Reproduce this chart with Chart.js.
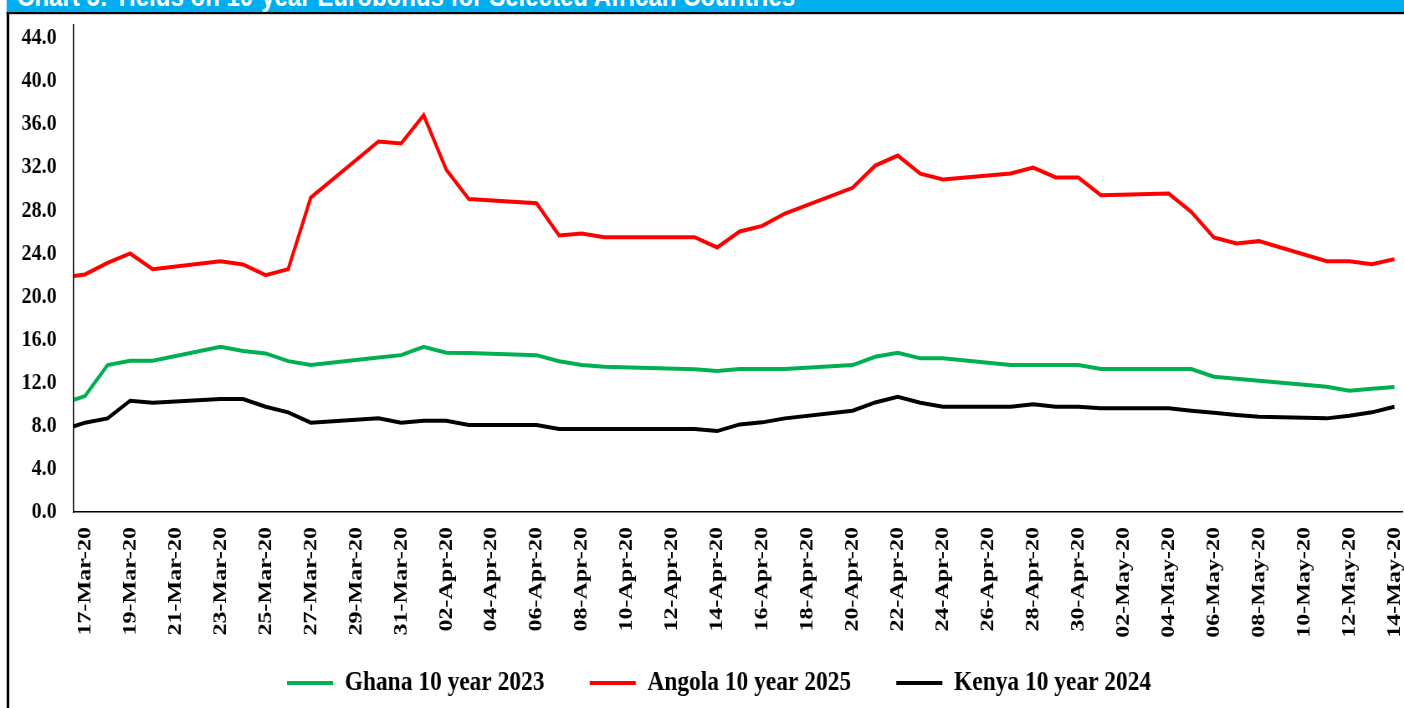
<!DOCTYPE html>
<html>
<head>
<meta charset="utf-8">
<script src="https://cdn.jsdelivr.net/npm/chart.js@4.4.1/dist/chart.umd.min.js"></script>
<style>
html,body{margin:0;padding:0;background:#fff;overflow:hidden;width:1404px;height:708px;}
#wrap{position:absolute;left:0;top:0;width:1678px;height:800px;transform:scaleX(0.83671);transform-origin:0 0;}
#bar{position:absolute;left:8.4px;top:0;width:1680px;height:12px;background:#00AEEF;overflow:hidden;}
#title{position:absolute;left:12px;top:-17.8px;font-family:"Liberation Sans";font-weight:bold;font-size:28.7px;line-height:28.7px;color:#fff;white-space:nowrap;}
#topline{position:absolute;left:8.4px;top:12px;width:1680px;height:2px;background:#000;}
#grayline{position:absolute;left:10.8px;top:14px;width:1680px;height:1px;background:#d4d4d4;}
#leftline{position:absolute;left:8.4px;top:12px;width:2.4px;height:790px;background:#000;}
#cw{position:absolute;left:0;top:0;width:1678px;height:800px;}
</style>
</head>
<body>
<div id="wrap">
  <div id="bar"><div id="title">Chart 5: Yields on 10-year Eurobonds for Selected African Countries</div></div>
  <div id="topline"></div>
  <div id="grayline"></div>
  <div id="leftline"></div>
  <div id="cw"><canvas id="c"></canvas></div>
</div>
<script>
// ---- data ----
const tradeDates = ['16-Mar-20','17-Mar-20','18-Mar-20','19-Mar-20','20-Mar-20','23-Mar-20','24-Mar-20','25-Mar-20','26-Mar-20','27-Mar-20','30-Mar-20','31-Mar-20','01-Apr-20','02-Apr-20','03-Apr-20','06-Apr-20','07-Apr-20','08-Apr-20','09-Apr-20','13-Apr-20','14-Apr-20','15-Apr-20','16-Apr-20','17-Apr-20','20-Apr-20','21-Apr-20','22-Apr-20','23-Apr-20','24-Apr-20','27-Apr-20','28-Apr-20','29-Apr-20','30-Apr-20','01-May-20','04-May-20','05-May-20','06-May-20','07-May-20','08-May-20','11-May-20','12-May-20','13-May-20','14-May-20'];
const ghana  = [10.07,10.76,13.64,14.04,14.04,15.34,14.94,14.72,14.0,13.64,14.35,14.56,15.34,14.78,14.75,14.56,14.0,13.64,13.48,13.24,13.08,13.27,13.27,13.27,13.64,14.41,14.78,14.26,14.26,13.64,13.64,13.64,13.64,13.27,13.27,13.27,12.55,12.37,12.18,11.63,11.25,11.44,11.6];
const angola = [21.77,22.05,23.13,24.0,22.54,23.28,22.98,21.98,22.54,29.19,34.39,34.2,36.83,31.78,29.04,28.65,25.67,25.85,25.5,25.5,24.55,26.04,26.56,27.7,30.09,32.15,33.08,31.4,30.86,31.42,31.97,31.05,31.05,29.4,29.56,27.86,25.48,24.92,25.14,23.28,23.28,23.0,23.47];
const kenya  = [7.6,8.29,8.69,10.33,10.14,10.48,10.48,9.77,9.25,8.29,8.69,8.29,8.47,8.47,8.07,8.07,7.7,7.7,7.7,7.7,7.51,8.13,8.32,8.69,9.4,10.17,10.7,10.14,9.77,9.77,9.99,9.77,9.77,9.62,9.62,9.4,9.21,9.0,8.84,8.69,8.93,9.25,9.77];
const xTickLabels = ['17-Mar-20','19-Mar-20','21-Mar-20','23-Mar-20','25-Mar-20','27-Mar-20','29-Mar-20','31-Mar-20','02-Apr-20','04-Apr-20','06-Apr-20','08-Apr-20','10-Apr-20','12-Apr-20','14-Apr-20','16-Apr-20','18-Apr-20','20-Apr-20','22-Apr-20','24-Apr-20','26-Apr-20','28-Apr-20','30-Apr-20','02-May-20','04-May-20','06-May-20','08-May-20','10-May-20','12-May-20','14-May-20'];
const yTickValues = [0,4,8,12,16,20,24,28,32,36,40,44];
const seriesNames = ['Ghana 10 year 2023','Angola 10 year 2025','Kenya 10 year 2024'];

const MONTHS = ['Jan','Feb','Mar','Apr','May','Jun','Jul','Aug','Sep','Oct','Nov','Dec'];
function dayIndex(s){
  const p = s.split('-');
  return (Date.UTC(2000 + Number(p[2]), MONTHS.indexOf(p[1]), Number(p[0])) - Date.UTC(2020,2,17)) / 86400000;
}
function pts(vals){ return tradeDates.map((d,i)=>({x:dayIndex(d), y:vals[i]})); }

const serif = '"Liberation Serif", "Times New Roman", serif';
const clipLeft = {left:0, top:false, right:false, bottom:false};
function ds(label, vals, color){
  return {label, data:pts(vals), borderColor:color, backgroundColor:color, borderWidth:4,
    pointRadius:0, pointHoverRadius:0, tension:0, fill:false, clip:clipLeft};
}

const LEG_PAD = 54;
// place the legend row (text centre y, first marker x) like the original
const legendPlacer = {
  id:'legendPlacer',
  afterLayout(chart){
    const lg = chart.legend;
    if (!lg || !lg.lineWidths) return;
    const cursorX = (lg.left + LEG_PAD + lg.right - lg.lineWidths[0]) / 2;
    const dx = 343 - cursorX;
    const centerY = lg.top + LEG_PAD + 14;
    const dy = 683 - centerY;
    lg.left += dx; lg.right += dx; lg.top += dy; lg.bottom += dy;
  }
};

new Chart(document.getElementById('c'), {
  type:'line',
  data:{datasets:[
    ds(seriesNames[0], ghana, '#00B050'),
    ds(seriesNames[1], angola, '#FF0000'),
    ds(seriesNames[2], kenya, '#000000')
  ]},
  plugins:[legendPlacer],
  options:{
    responsive:true, maintainAspectRatio:false, animation:false, devicePixelRatio:1,
    layout:{padding:{left:0, right:1, top:25, bottom:0}},
    plugins:{
      legend:{position:'bottom', labels:{usePointStyle:true, pointStyle:'line', pointStyleWidth:55,
        padding:LEG_PAD, color:'#000', font:{family:serif, weight:'bold', size:28}}},
      tooltip:{enabled:false}
    },
    scales:{
      x:{type:'linear', min:-0.5, max:58.35,
        grid:{display:false, drawTicks:false},
        border:{display:true, color:'#000', width:1.5},
        afterBuildTicks:s=>{ s.ticks = xTickLabels.map(l=>({value:dayIndex(l)})); },
        afterFit:s=>{ s.height = 196; s.paddingLeft = 0; s.paddingRight = 0; },
        ticks:{autoSkip:false, minRotation:90, maxRotation:90, padding:15, color:'#000',
          font:{family:serif, weight:'bold', size:24},
          callback:(v,i)=>xTickLabels[i]}
      },
      y:{min:0, max:45.2,
        grid:{display:false, drawTicks:false},
        border:{display:true, color:'#000', width:1.5},
        afterBuildTicks:s=>{ s.ticks = yTickValues.map(v=>({value:v})); },
        afterFit:s=>{ s.width = 88.1; s.paddingTop = 0; s.paddingBottom = 0; },
        ticks:{padding:20.3, color:'#000', font:{family:serif, weight:'bold', size:24},
          callback:v=>Number(v).toFixed(1)}
      }
    }
  }
});
</script>
</body>
</html>
